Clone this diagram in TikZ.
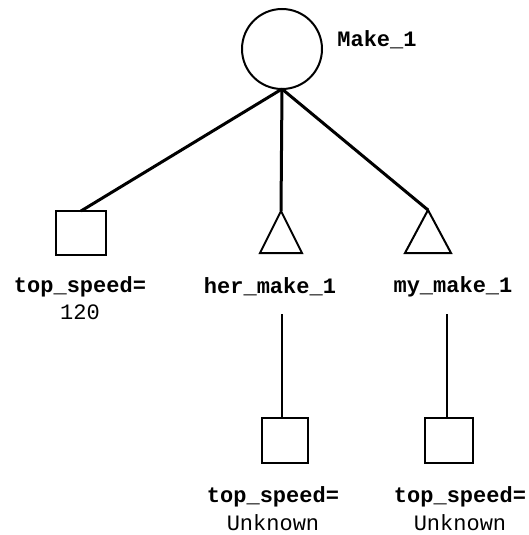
\documentclass[tikz,border=0pt]{standalone}
\usepackage{fontspec}
\setmonofont{Liberation Mono}
\tikzset{
  lbl/.style={font=\ttfamily\bfseries\fontsize{22}{22}\selectfont, inner sep=0pt, anchor=center},
  val/.style={font=\ttfamily\fontsize{22}{22}\selectfont, inner sep=0pt, anchor=center},
  sq/.style={draw, line width=2pt, minimum width=50pt, minimum height=44pt, inner sep=0pt, outer sep=0pt},
  trishape/.style={draw, line width=2pt, line join=miter},
  obj/.style={draw, line width=2pt, circle, minimum size=80pt, inner sep=0pt, outer sep=0pt},
  edge/.style={line width=3pt},
  vedge/.style={line width=2.3pt}
}
\begin{document}
\begin{tikzpicture}[x=1pt,y=-1pt]
\useasboundingbox (0,0) rectangle (528,535);
\node[obj] (c) at (282,49) {};
\node[lbl] (cl) at (377,40) {Make\_1};
\node[sq] (s1) at (81,233) {};
\coordinate (t1) at (281,211);
\coordinate (t2) at (428,210);
\draw[trishape] (t1) -- ++(-21,42) -- ++(42,0) -- cycle;
\draw[trishape] (t2) -- ++(-23,43) -- ++(46,0) -- cycle;
\draw[edge] (c.south) -- (s1.north);
\draw[edge] (c.south) -- (t1);
\draw[edge] (c.south) -- (t2);
\node[lbl] (l1) at (80,287) {top\_speed=};
\node[val] (v1) at (80,312) {120};
\node[lbl] (l2) at (270,287) {her\_make\_1};
\node[lbl] (l3) at (453,287) {my\_make\_1};
\coordinate (a2) at (282,314);
\coordinate (a3) at (447,314);
\node[sq, minimum width=46pt, minimum height=45pt] (s2) at (285,440.5) {};
\node[sq, minimum width=48pt, minimum height=45pt] (s3) at (449,440.5) {};
\draw[vedge] (a2) -- (a2 |- s2.north);
\draw[vedge] (a3) -- (a3 |- s3.north);
\node[lbl] (l4) at (273,497) {top\_speed=};
\node[val] (v4) at (273,523) {Unknown};
\node[lbl] (l5) at (460,497) {top\_speed=};
\node[val] (v5) at (460,523) {Unknown};
\end{tikzpicture}
\end{document}
